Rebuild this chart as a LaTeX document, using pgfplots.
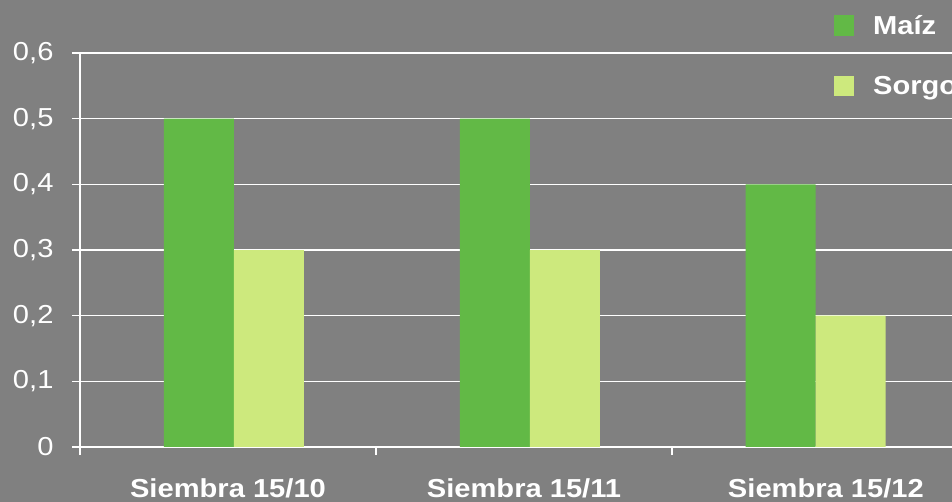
\documentclass[border=0pt]{standalone}
\usepackage{fontspec}
\setmainfont[FakeStretch=1.12]{Liberation Sans}
\usepackage{pgfplots}
\pgfplotsset{compat=1.18}
\definecolor{bg}{RGB}{128,128,128}
\definecolor{maiz}{RGB}{98,185,70}
\definecolor{sorgo}{RGB}{205,233,125}
\begin{document}
\begin{tikzpicture}
\useasboundingbox (0,0) rectangle (952bp,502bp);
\fill[bg] (0,0) rectangle (952bp,502bp);
\clip (0,0) rectangle (952bp,502bp);
\begin{axis}[
  at={(80bp,55bp)}, anchor=south west,
  scale only axis, width=888bp, height=394bp,
  xmin=-0.5, xmax=2.5, ymin=0, ymax=0.6,
  axis x line=bottom, axis y line=left,
  axis line style={-, white, line width=1.2bp},
  ymajorgrids, grid style={white, line width=1.2bp},
  ytick={0,0.1,...,0.6},
  xtick={0,1,2.02},
  xticklabels={Siembra 15/10,Siembra 15/11,Siembra 15/12},
  minor xtick={-0.5,0.5,1.5},
  tick align=outside,
  major tick length=8bp, minor tick length=8bp,
  x tick style={draw=none},
  minor x tick style={draw=white, line width=1.2bp},
  y tick style={draw=white, line width=1.2bp},
  /pgf/number format/assume math mode=true,
  /pgf/number format/use comma,
  yticklabel style={font=\fontsize{26bp}{30bp}\selectfont, text=white, xshift=-15bp},
  xticklabel style={font=\fontsize{26bp}{30bp}\selectfont\bfseries, text=white, yshift=-20bp},
  ybar, bar width=70bp,
  legend style={draw=none, fill=none, at={(0.849,1.0964)}, anchor=north west,
    inner sep=0pt, row sep=40bp, font=\fontsize{26bp}{30bp}\selectfont\bfseries, text=white,
    nodes={inner sep=0pt}},
  legend image code/.code={\fill[#1] (0bp,-10bp) rectangle (20bp,10bp); \path (39bp,0bp);},
  legend cell align=left,
]
\addplot[fill=maiz, draw=none, bar shift=-35bp] coordinates {(0.02,0.5) (1.02,0.5) (1.985,0.4)};
\addplot[fill=sorgo, draw=none, bar shift=35bp] coordinates {(0.02,0.3) (1.02,0.3) (1.985,0.2)};
\legend{Maíz,Sorgo}
\end{axis}
\end{tikzpicture}
\end{document}
